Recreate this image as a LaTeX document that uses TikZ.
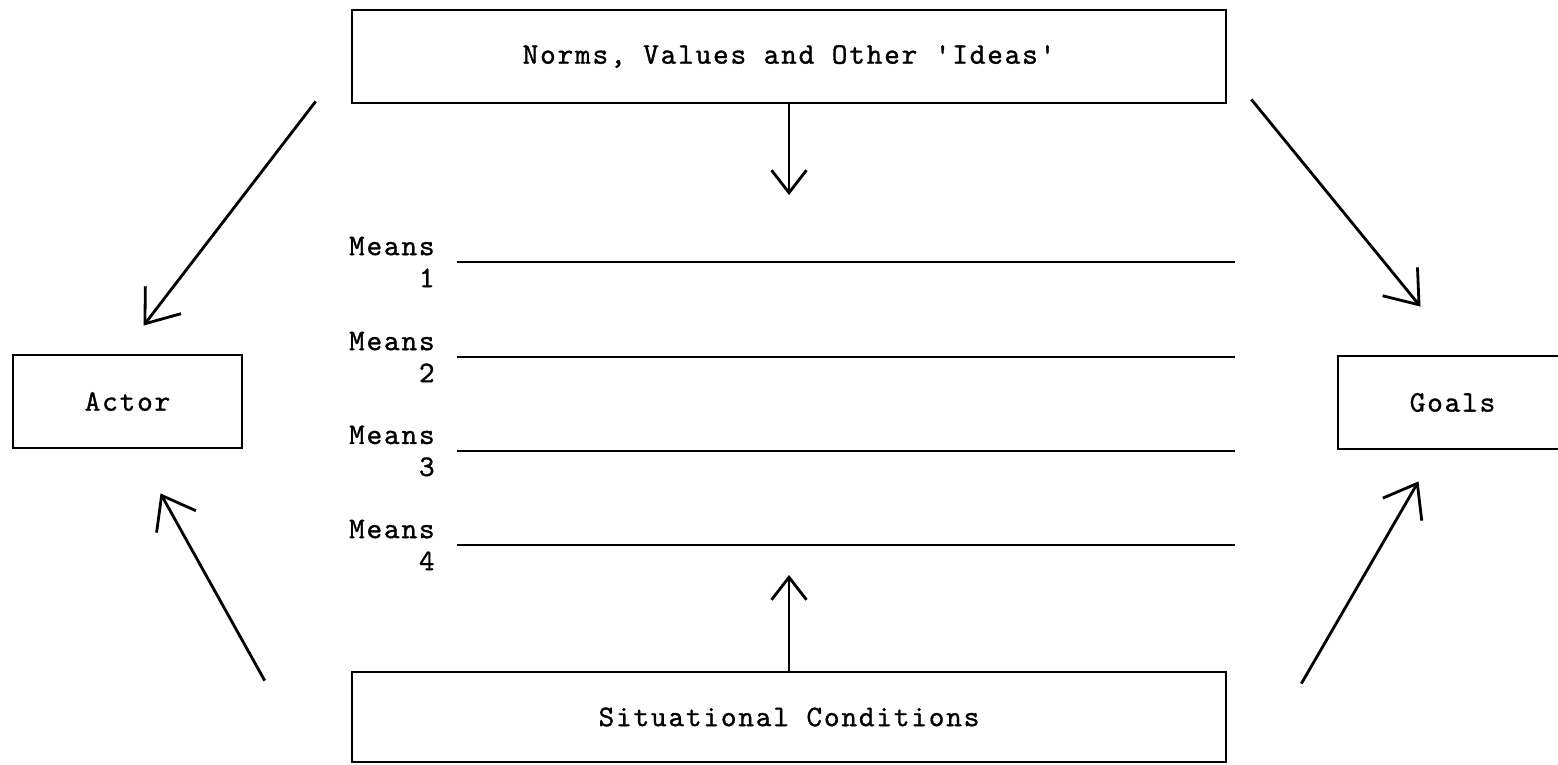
\documentclass[tikz,border=0pt]{standalone}
\usepackage{fontspec}
\usetikzlibrary{arrows.meta, calc}
\newfontfamily\twfont{lmmono10-regular.otf}[LetterSpace=6, FakeBold=1]
\newcommand{\tw}{\twfont\fontsize{17}{18.2}\selectfont}
\tikzset{
  box/.style={draw, line width=1.6pt, inner sep=0pt, font=\tw, minimum width=#1, minimum height=1.86cm},
  arr/.style={-{Straight Barb[length=6mm, width=9mm]}, line width=1.6pt},
  sarr/.style={-{Straight Barb[length=4.5mm, width=7mm]}, line width=1.6pt},
  meansline/.style={line width=1.1pt},
  lbl/.style={font=\tw, align=right, anchor=east, inner sep=0pt},
}

\begin{document}
\begin{tikzpicture}[x=0.02cm, y=-0.02cm]
    \useasboundingbox (0,0) rectangle (1558,764);
    \node[box=17.48cm] (norms) at (789,56.5) {Norms, Values and Other 'Ideas'};
    \node[box=17.48cm, minimum height=1.8cm] (cond) at (789,717) {Situational Conditions};
    \node[box=4.58cm] (actor) at (127.5,401.5) {Actor};
    \node[box=4.58cm] (goals) at (1452.5,402.5) {Goals};
    % the four means
    \foreach \i/\y in {1/262, 2/357, 3/451, 4/545} {
      \node[lbl] (m\i) at (435,\y) {Means\\\i};
      \coordinate (e\i) at (1235,\y);
      \draw[meansline] ([xshift=0.44cm]m\i.east) -- (e\i);
    }
    \coordinate (ntip) at (789,195);
    \coordinate (ctip) at (789,575);
    \draw[sarr] (norms.south) -- (ntip);
    \draw[sarr] (cond.north) -- (ctip);
    \draw[arr] ([shift={(-35,-3)}]norms.south west) -- ([shift={(16,-28)}]actor.north);
    \draw[arr] ([shift={(24,-5)}]norms.south east) -- ([shift={(-32,-48)}]goals.north);
    \draw[arr] ([shift={(-86,10)}]cond.north west) -- ([shift={(33,44)}]actor.south);
    \draw[arr] ([shift={(74,13)}]cond.north east) -- ([shift={(-34,31)}]goals.south);
  \end{tikzpicture}
\end{document}
